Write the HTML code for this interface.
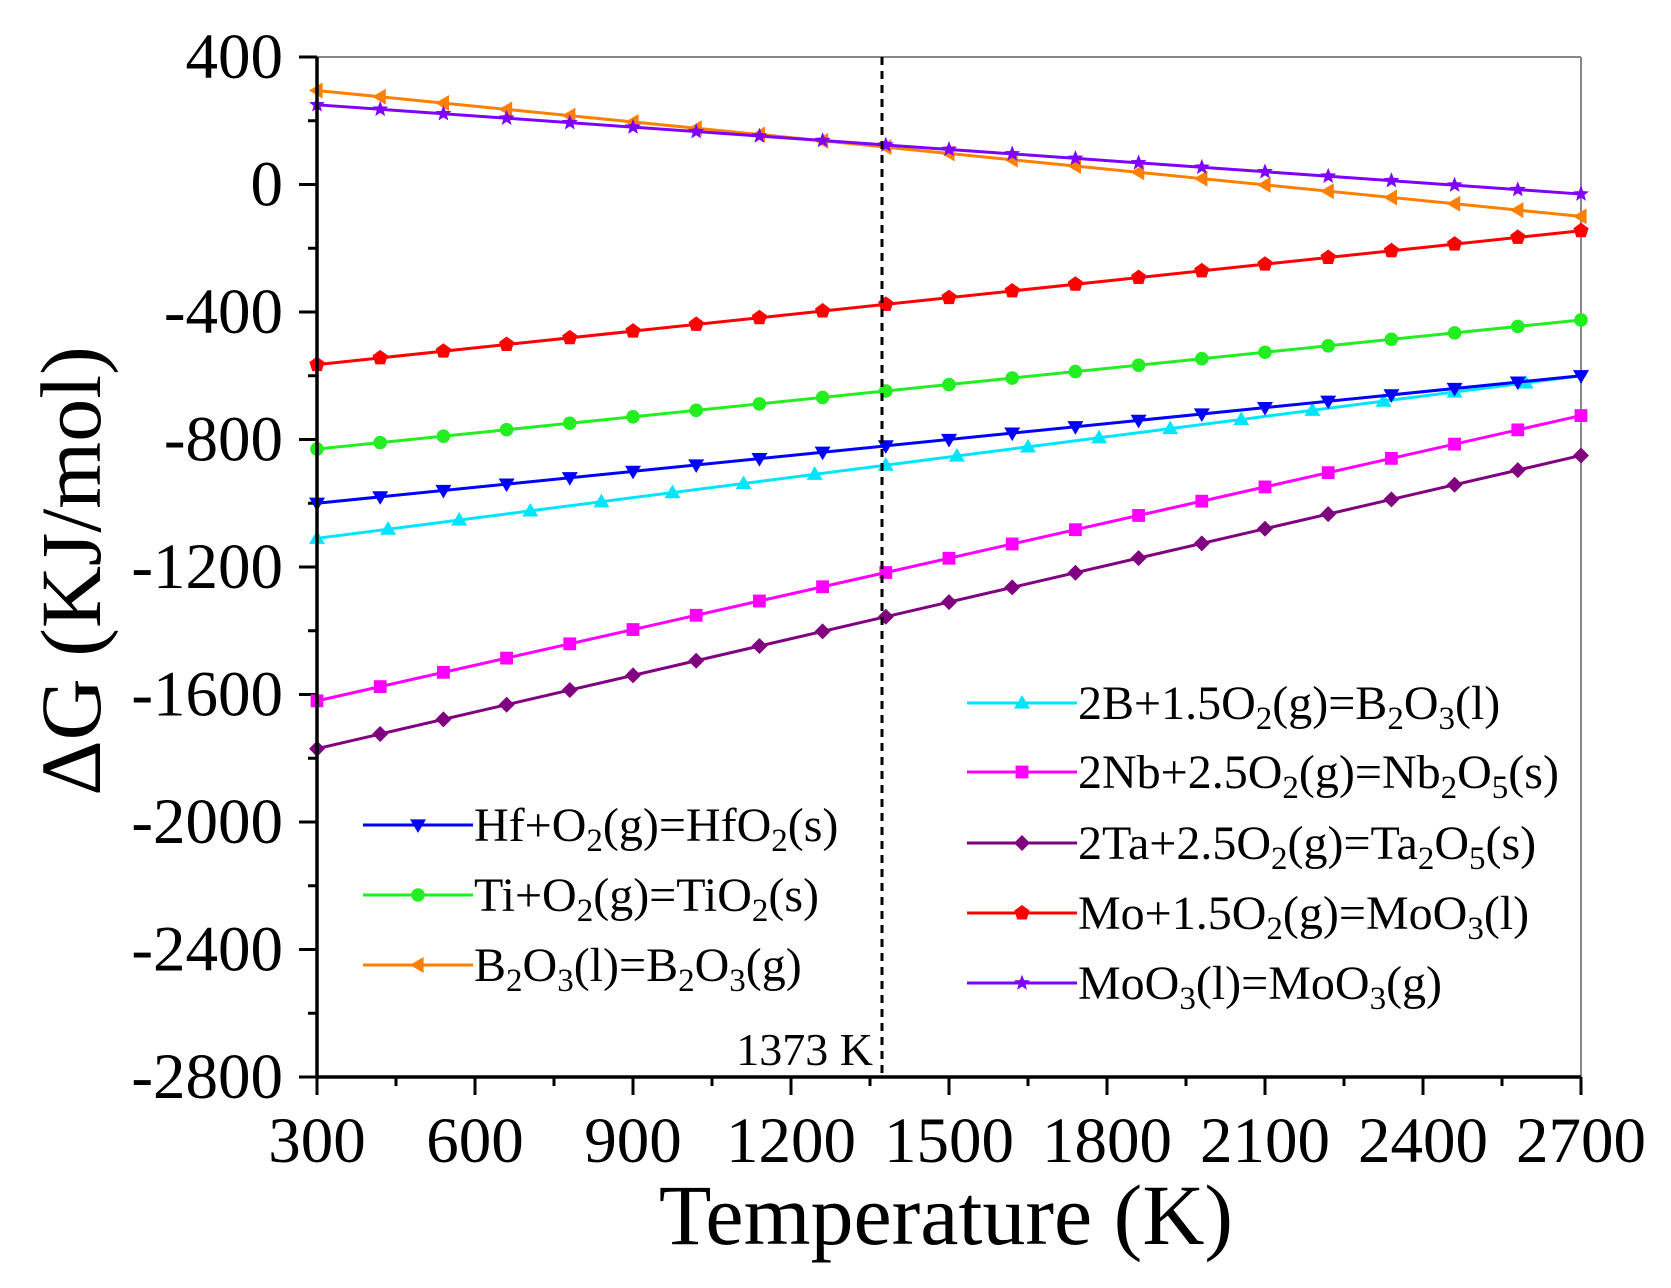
<!DOCTYPE html>
<html><head><meta charset="utf-8"><style>
html,body{margin:0;padding:0;background:#fff;}
svg{display:block;font-family:"Liberation Serif",serif;}
</style></head><body>
<svg id="s" width="1671" height="1288" viewBox="0 0 1671 1288" xmlns="http://www.w3.org/2000/svg">
<rect width="1671" height="1288" fill="#fff"/>
<line x1="317" y1="57" x2="1581" y2="57" stroke="#888" stroke-width="2"/>
<line x1="1581" y1="57" x2="1581" y2="1077" stroke="#888" stroke-width="2"/>
<g id="ticks"></g>
<g id="series"></g>
<line x1="882" y1="57" x2="882" y2="1077" stroke="#000" stroke-width="3" stroke-dasharray="8,6"/>
<line x1="317" y1="1077" x2="1581" y2="1077" stroke="#000" stroke-width="3.5"/>
<line x1="317" y1="57" x2="317" y2="1077" stroke="#000" stroke-width="3.5"/>
<text x="873" y="1065" font-size="46" text-anchor="end">1373 K</text>
<g id="labels" font-size="65"></g>
<text x="946" y="1244" font-size="86" text-anchor="middle">Temperature (K)</text>
<text transform="translate(100,571) rotate(-90)" font-size="86" text-anchor="middle">ΔG (KJ/mol)</text>
<g id="legend" font-size="48"></g>
</svg>
<script>
const NS="http://www.w3.org/2000/svg";
const X=t=>317+(t-300)*1264/2400, Y=v=>57+(400-v)*1020/3200;
function el(tag,attrs,parent,text){const e=document.createElementNS(NS,tag);for(const k in attrs)e.setAttribute(k,attrs[k]);if(text!==undefined)e.textContent=text;parent.appendChild(e);return e;}
const tk=document.getElementById('ticks'),lb=document.getElementById('labels');
for(let v=400;v>=-2800;v-=200){const maj=v%400===0;el('line',{x1:317-(maj?18:9),x2:317,y1:Y(v),y2:Y(v),stroke:'#000','stroke-width':3},tk);
 if(maj)el('text',{x:283,y:Y(v)+21,'text-anchor':'end'},lb,String(v));}
for(let t=300;t<=2700;t+=150){const maj=(t-300)%300===0;el('line',{x1:X(t),x2:X(t),y1:1077,y2:1077+(maj?18:9),stroke:'#000','stroke-width':3},tk);
 if(maj)el('text',{x:X(t),y:1162,'text-anchor':'middle'},lb,String(t));}
function marker(type,x,y,c,g,s){s=s||8;let p;
 switch(type){
 case 'dtri':p=`${x-s},${y-s*0.7} ${x+s},${y-s*0.7} ${x},${y+s}`;break;
 case 'utri':p=`${x-s},${y+s*0.7} ${x+s},${y+s*0.7} ${x},${y-s}`;break;
 case 'ltri':p=`${x+s*0.7},${y-s} ${x+s*0.7},${y+s} ${x-s},${y}`;break;
 case 'sq':el('rect',{x:x-s*0.8,y:y-s*0.8,width:s*1.6,height:s*1.6,fill:c},g);return;
 case 'circ':el('circle',{cx:x,cy:y,r:s*0.85,fill:c},g);return;
 case 'dia':p=`${x},${y-s} ${x+s},${y} ${x},${y+s} ${x-s},${y}`;break;
 case 'pent':{let a=[];for(let i=0;i<5;i++){const an=-Math.PI/2+i*2*Math.PI/5;a.push(`${x+s*Math.cos(an)},${y+s*Math.sin(an)}`);}p=a.join(' ');break;}
 case 'star':{let a=[];for(let i=0;i<10;i++){const r=i%2?s*0.45:s*1.05;const an=-Math.PI/2+i*Math.PI/5;a.push(`${x+r*Math.cos(an)},${y+r*Math.sin(an)}`);}p=a.join(' ');break;}
 }
 el('polygon',{points:p,fill:c},g);}
const S=[
 ['#ff8000','ltri',295,-100,120],
 ['#8000ff','star',250,-30,120],
 ['#ff0000','pent',-565,-145,120],
 ['#22ee22','circ',-830,-425,120],
 ['#00e5ff','utri',-1110,-600,135],
 ['#0000ff','dtri',-1000,-600,120],
 ['#ff00ff','sq',-1620,-725,120],
 ['#800080','dia',-1770,-850,120],
];
const sg=document.getElementById('series');
for(const [c,m,a,b,st] of S){const f=t=>a+(b-a)*(t-300)/2400;
 el('line',{x1:X(300),y1:Y(a),x2:X(2700),y2:Y(b),stroke:c,'stroke-width':3},sg);
 for(let t=300;t<=2700;t+=st)marker(m,X(t),Y(f(t)),c,sg);}
const lg=document.getElementById('legend');
function leg(x,y,c,m,str){el('line',{x1:x,y1:y,x2:x+110,y2:y,stroke:c,'stroke-width':3},lg);marker(m,x+55,y,c,lg);
 const t=el('text',{x:x+111,y:y+16},lg);
 const parts=str.split(/_(\d)/);let low=false;
 for(let i=0;i<parts.length;i++){
  if(i%2===1){el('tspan',{'font-size':33,dy:low?0:10},t,parts[i]);low=true;}
  else if(parts[i]){el('tspan',{dy:low?-10:0},t,parts[i]);low=false;}
 }}
leg(363,825,'#0000ff','dtri','Hf+O_2(g)=HfO_2(s)');
leg(363,895,'#22ee22','circ','Ti+O_2(g)=TiO_2(s)');
leg(363,965,'#ff8000','ltri','B_2O_3(l)=B_2O_3(g)');
leg(967,703,'#00e5ff','utri','2B+1.5O_2(g)=B_2O_3(l)');
leg(967,772,'#ff00ff','sq','2Nb+2.5O_2(g)=Nb_2O_5(s)');
leg(967,843,'#800080','dia','2Ta+2.5O_2(g)=Ta_2O_5(s)');
leg(967,913,'#ff0000','pent','Mo+1.5O_2(g)=MoO_3(l)');
leg(967,983,'#8000ff','star','MoO_3(l)=MoO_3(g)');
</script>
</body></html>
